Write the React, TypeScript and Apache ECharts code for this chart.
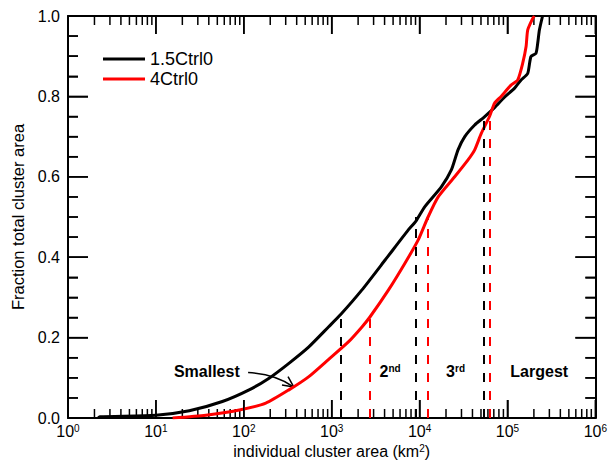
import React, { useEffect, useRef } from "react";
import * as echarts from "echarts";

// ---- data ----
const seriesNames = ["1.5Ctrl0", "4Ctrl0"];

const ctrl15Area = [2.2, 2.3, 10, 24, 57, 115, 194, 326, 550, 925, 1274, 2200, 4060, 7450, 9100, 11500, 17700, 23000, 27400, 32700, 42400, 54000, 71300, 92500, 120000, 143000, 170000, 185000, 211000, 221000, 231000, 251000];
const ctrl15Frac = [0.0, 0.003, 0.007, 0.018, 0.041, 0.07, 0.099, 0.136, 0.177, 0.227, 0.258, 0.318, 0.393, 0.468, 0.49, 0.526, 0.575, 0.617, 0.667, 0.7, 0.729, 0.748, 0.772, 0.798, 0.82, 0.841, 0.857, 0.899, 0.907, 0.932, 0.965, 1.0];

const ctrl4Area = [15.5, 37, 89, 178, 326, 550, 925, 1560, 2200, 2700, 4420, 6820, 9660, 12500, 16300, 25100, 35600, 42400, 50400, 62500, 71300, 84700, 110000, 131000, 149000, 163000, 170000, 194000, 202000];
const ctrl4Frac = [0.0, 0.007, 0.02, 0.037, 0.07, 0.103, 0.146, 0.19, 0.226, 0.25, 0.318, 0.385, 0.443, 0.5, 0.55, 0.6, 0.642, 0.667, 0.708, 0.75, 0.783, 0.8, 0.828, 0.841, 0.882, 0.924, 0.965, 0.994, 1.0];

const quartileFractions = [0.25, 0.5, 0.75];
const ctrl15Quartiles = [1274, 9100, 54000];
const ctrl4Quartiles = [2700, 12500, 62500];

const xDecades = [1, 10, 100, 1000, 10000, 100000];
const xMajorTicks = [1, 10, 100, 1000, 10000, 100000, 1000000];
const xMinorMultipliers = [2, 3, 4, 5, 6, 7, 8, 9];
const yMajorTicks = [0, 0.2, 0.4, 0.6, 0.8, 1.0];
const yMinorTicks = [0.05, 0.1, 0.15, 0.25, 0.3, 0.35, 0.45, 0.5, 0.55, 0.65, 0.7, 0.75, 0.85, 0.9, 0.95];

const rangeLabels = [
  { main: "2", sup: "nd", x: 4620, y: 0.115 },
  { main: "3", sup: "rd", x: 25700, y: 0.115 },
  { main: "Largest", sup: "", x: 230000, y: 0.115 },
];
const smallestLabel = { text: "Smallest", x: 38, y: 0.115 };
const smallestArrow = { from: [112, 0.113], ctrl: [231, 0.109], to: [371, 0.077] };

const FONT = "'Liberation Sans', Arial, Helvetica, sans-serif";

export default function App() {
  const ref = useRef<HTMLDivElement>(null);

  useEffect(() => {
    if (!ref.current) return;
    const chart = echarts.init(ref.current, undefined, { renderer: "svg" });

    const minorTicks: number[][] = [];
    xDecades.forEach((d) => xMinorMultipliers.forEach((m) => minorTicks.push([d * m, 0])));

    const line15 = ctrl15Area.map((a, i) => [a, ctrl15Frac[i]]);
    const line4 = ctrl4Area.map((a, i) => [a, ctrl4Frac[i]]);

    const qLines = (xs: number[]) =>
      xs.map((x, i) => [{ coord: [x, 0] }, { coord: [x, quartileFractions[i]] }]);

    const axisLine = { show: true, onZero: false, lineStyle: { color: "#000", width: 2 } };
    const xTick = { show: true, inside: true, length: 18, lineStyle: { color: "#000", width: 1.5 } };
    const yTick = { show: true, inside: true, length: 20, lineStyle: { color: "#000", width: 1.5 } };
    const yMinor = { show: true, splitNumber: 4, length: 10, lineStyle: { color: "#000", width: 1.5 } };

    const option: any = {
      animation: false,
      textStyle: { fontFamily: FONT, color: "#000" },
      grid: { left: 68, right: 12, top: 16, bottom: 47, containLabel: false },
      legend: {
        data: seriesNames.map((n) => ({ name: n, icon: "rect" })),
        orient: "vertical",
        left: 103,
        top: 50,
        padding: 0,
        itemWidth: 42,
        itemHeight: 3,
        itemGap: 2,
        textStyle: { fontSize: 18, color: "#000", fontFamily: FONT },
      },
      xAxis: [
        {
          type: "log",
          logBase: 10,
          min: 1,
          max: 1000000,
          position: "bottom",
          axisLine,
          axisTick: xTick,
          splitLine: { show: false },
          axisLabel: {
            show: true,
            margin: 5,
            color: "#000",
            formatter: (v: number) => `{b|10}{s|${Math.round(Math.log10(v))}}`,
            rich: {
              b: { fontSize: 16, fontFamily: FONT, color: "#000" },
              s: { fontSize: 10, fontFamily: FONT, color: "#000", verticalAlign: "top" },
            },
          },
          name: "individual cluster area (km{s|2})",
          nameLocation: "middle",
          nameGap: 25,
          nameTextStyle: {
            fontSize: 16,
            color: "#000",
            fontFamily: FONT,
            rich: { s: { fontSize: 10, fontFamily: FONT, color: "#000", verticalAlign: "top" } },
          },
        },
        {
          type: "log",
          logBase: 10,
          min: 1,
          max: 1000000,
          position: "top",
          axisLine,
          axisTick: xTick,
          axisLabel: { show: false },
          splitLine: { show: false },
        },
      ],
      yAxis: [
        {
          type: "value",
          min: 0,
          max: 1,
          interval: 0.2,
          position: "left",
          axisLine,
          axisTick: yTick,
          minorTick: yMinor,
          splitLine: { show: false },
          axisLabel: {
            show: true,
            margin: 8,
            fontSize: 16,
            color: "#000",
            fontFamily: FONT,
            formatter: (v: number) => v.toFixed(1),
          },
          name: "Fraction total cluster area",
          nameLocation: "middle",
          nameGap: 38,
          nameTextStyle: { fontSize: 16.5, color: "#000", fontFamily: FONT },
        },
        {
          type: "value",
          min: 0,
          max: 1,
          interval: 0.2,
          position: "right",
          axisLine,
          axisTick: yTick,
          minorTick: yMinor,
          splitLine: { show: false },
          axisLabel: { show: false },
        },
      ],
      series: [
        {
          type: "custom",
          xAxisIndex: 0,
          yAxisIndex: 0,
          silent: true,
          data: minorTicks,
          encode: { x: 0, y: 1 },
          renderItem: (_p: any, api: any) => {
            const x = api.value(0);
            const b = api.coord([x, 0]);
            const t = api.coord([x, 1]);
            const st = { stroke: "#000", lineWidth: 1.5 };
            return {
              type: "group",
              children: [
                { type: "line", shape: { x1: b[0], y1: b[1], x2: b[0], y2: b[1] - 9 }, style: st },
                { type: "line", shape: { x1: t[0], y1: t[1], x2: t[0], y2: t[1] + 9 }, style: st },
              ],
            };
          },
          z: 1,
        },
        {
          name: seriesNames[0],
          type: "line",
          data: line15,
          symbol: "none",
          showSymbol: false,
          smooth: 0.2,
          lineStyle: { color: "#000", width: 3 },
          itemStyle: { color: "#000" },
          markLine: {
            silent: true,
            symbol: "none",
            label: { show: false },
            lineStyle: { color: "#000", width: 2, type: [9, 9] },
            data: qLines(ctrl15Quartiles),
          },
          z: 3,
        },
        {
          name: seriesNames[1],
          type: "line",
          data: line4,
          symbol: "none",
          showSymbol: false,
          smooth: 0.2,
          lineStyle: { color: "#ff0000", width: 3 },
          itemStyle: { color: "#ff0000" },
          markLine: {
            silent: true,
            symbol: "none",
            label: { show: false },
            lineStyle: { color: "#ff0000", width: 2, type: [9, 9] },
            data: qLines(ctrl4Quartiles),
          },
          z: 4,
        },
      ],
    };

    chart.setOption(option);

    const px = (p: number[]) => chart.convertToPixel({ xAxisIndex: 0, yAxisIndex: 0 }, p) as number[];
    const graphics: any[] = [];

    const tickPts: number[][][] = [];
    const addXTicks = (vals: number[], len: number) =>
      vals.forEach((v) => {
        const b = px([v, 0]);
        const t = px([v, 1]);
        tickPts.push([[b[0], b[1]], [b[0], b[1] - len]]);
        tickPts.push([[t[0], t[1]], [t[0], t[1] + len]]);
      });
    const addYTicks = (vals: number[], len: number) =>
      vals.forEach((v) => {
        const l = px([1, v]);
        const r = px([1000000, v]);
        tickPts.push([[l[0], l[1]], [l[0] + len, l[1]]]);
        tickPts.push([[r[0], r[1]], [r[0] - len, r[1]]]);
      });
    addXTicks(xMajorTicks, 18);
    addYTicks(yMajorTicks, 20);
    addYTicks(yMinorTicks, 10);
    tickPts.forEach((pts) => {
      if (pts.every((q) => isFinite(q[0]) && isFinite(q[1]))) {
        graphics.push({
          type: "polyline",
          silent: true,
          z: 100,
          shape: { points: pts },
          style: { stroke: "#000", lineWidth: 1.5, fill: "none" },
        });
      }
    });

    rangeLabels.forEach((l) => {
      const p = px([l.x, l.y]);
      graphics.push({
        type: "text",
        x: p[0],
        y: p[1],
        silent: true,
        style: {
          text: l.sup ? `{m|${l.main}}{s|${l.sup}}` : `{m|${l.main}}`,
          align: "center",
          verticalAlign: "middle",
          fill: "#000",
          rich: {
            m: { fontSize: 16, fontWeight: "bold", fontFamily: FONT, fill: "#000" },
            s: { fontSize: 10, fontWeight: "bold", fontFamily: FONT, fill: "#000", verticalAlign: "top" },
          },
        },
      });
    });
    const sp = px([smallestLabel.x, smallestLabel.y]);
    graphics.push({
      type: "text",
      x: sp[0],
      y: sp[1],
      silent: true,
      style: {
        text: smallestLabel.text,
        align: "center",
        verticalAlign: "middle",
        fontSize: 16,
        fontWeight: "bold",
        fontFamily: FONT,
        fill: "#000",
      },
    });
    const a0 = px(smallestArrow.from);
    const ac = px(smallestArrow.ctrl);
    const a1 = px(smallestArrow.to);
    graphics.push({
      type: "bezierCurve",
      silent: true,
      shape: { x1: a0[0], y1: a0[1], cpx1: ac[0], cpy1: ac[1], x2: a1[0], y2: a1[1] },
      style: { stroke: "#000", lineWidth: 1.5, fill: "none" },
    });
    const ang = Math.atan2(a1[1] - ac[1], a1[0] - ac[0]);
    const hl = 12;
    const spread = 0.45;
    graphics.push({
      type: "polyline",
      silent: true,
      shape: {
        points: [
          [a1[0] - hl * Math.cos(ang - spread), a1[1] - hl * Math.sin(ang - spread)],
          [a1[0], a1[1]],
          [a1[0] - hl * Math.cos(ang + spread), a1[1] - hl * Math.sin(ang + spread)],
        ],
      },
      style: { stroke: "#000", lineWidth: 1.5, fill: "none" },
    });
    chart.setOption({ graphic: graphics });

    return () => chart.dispose();
  }, []);

  return <div ref={ref} style={{ width: 610, height: 465, position: "absolute", left: 0, top: 0 }} />;
}
